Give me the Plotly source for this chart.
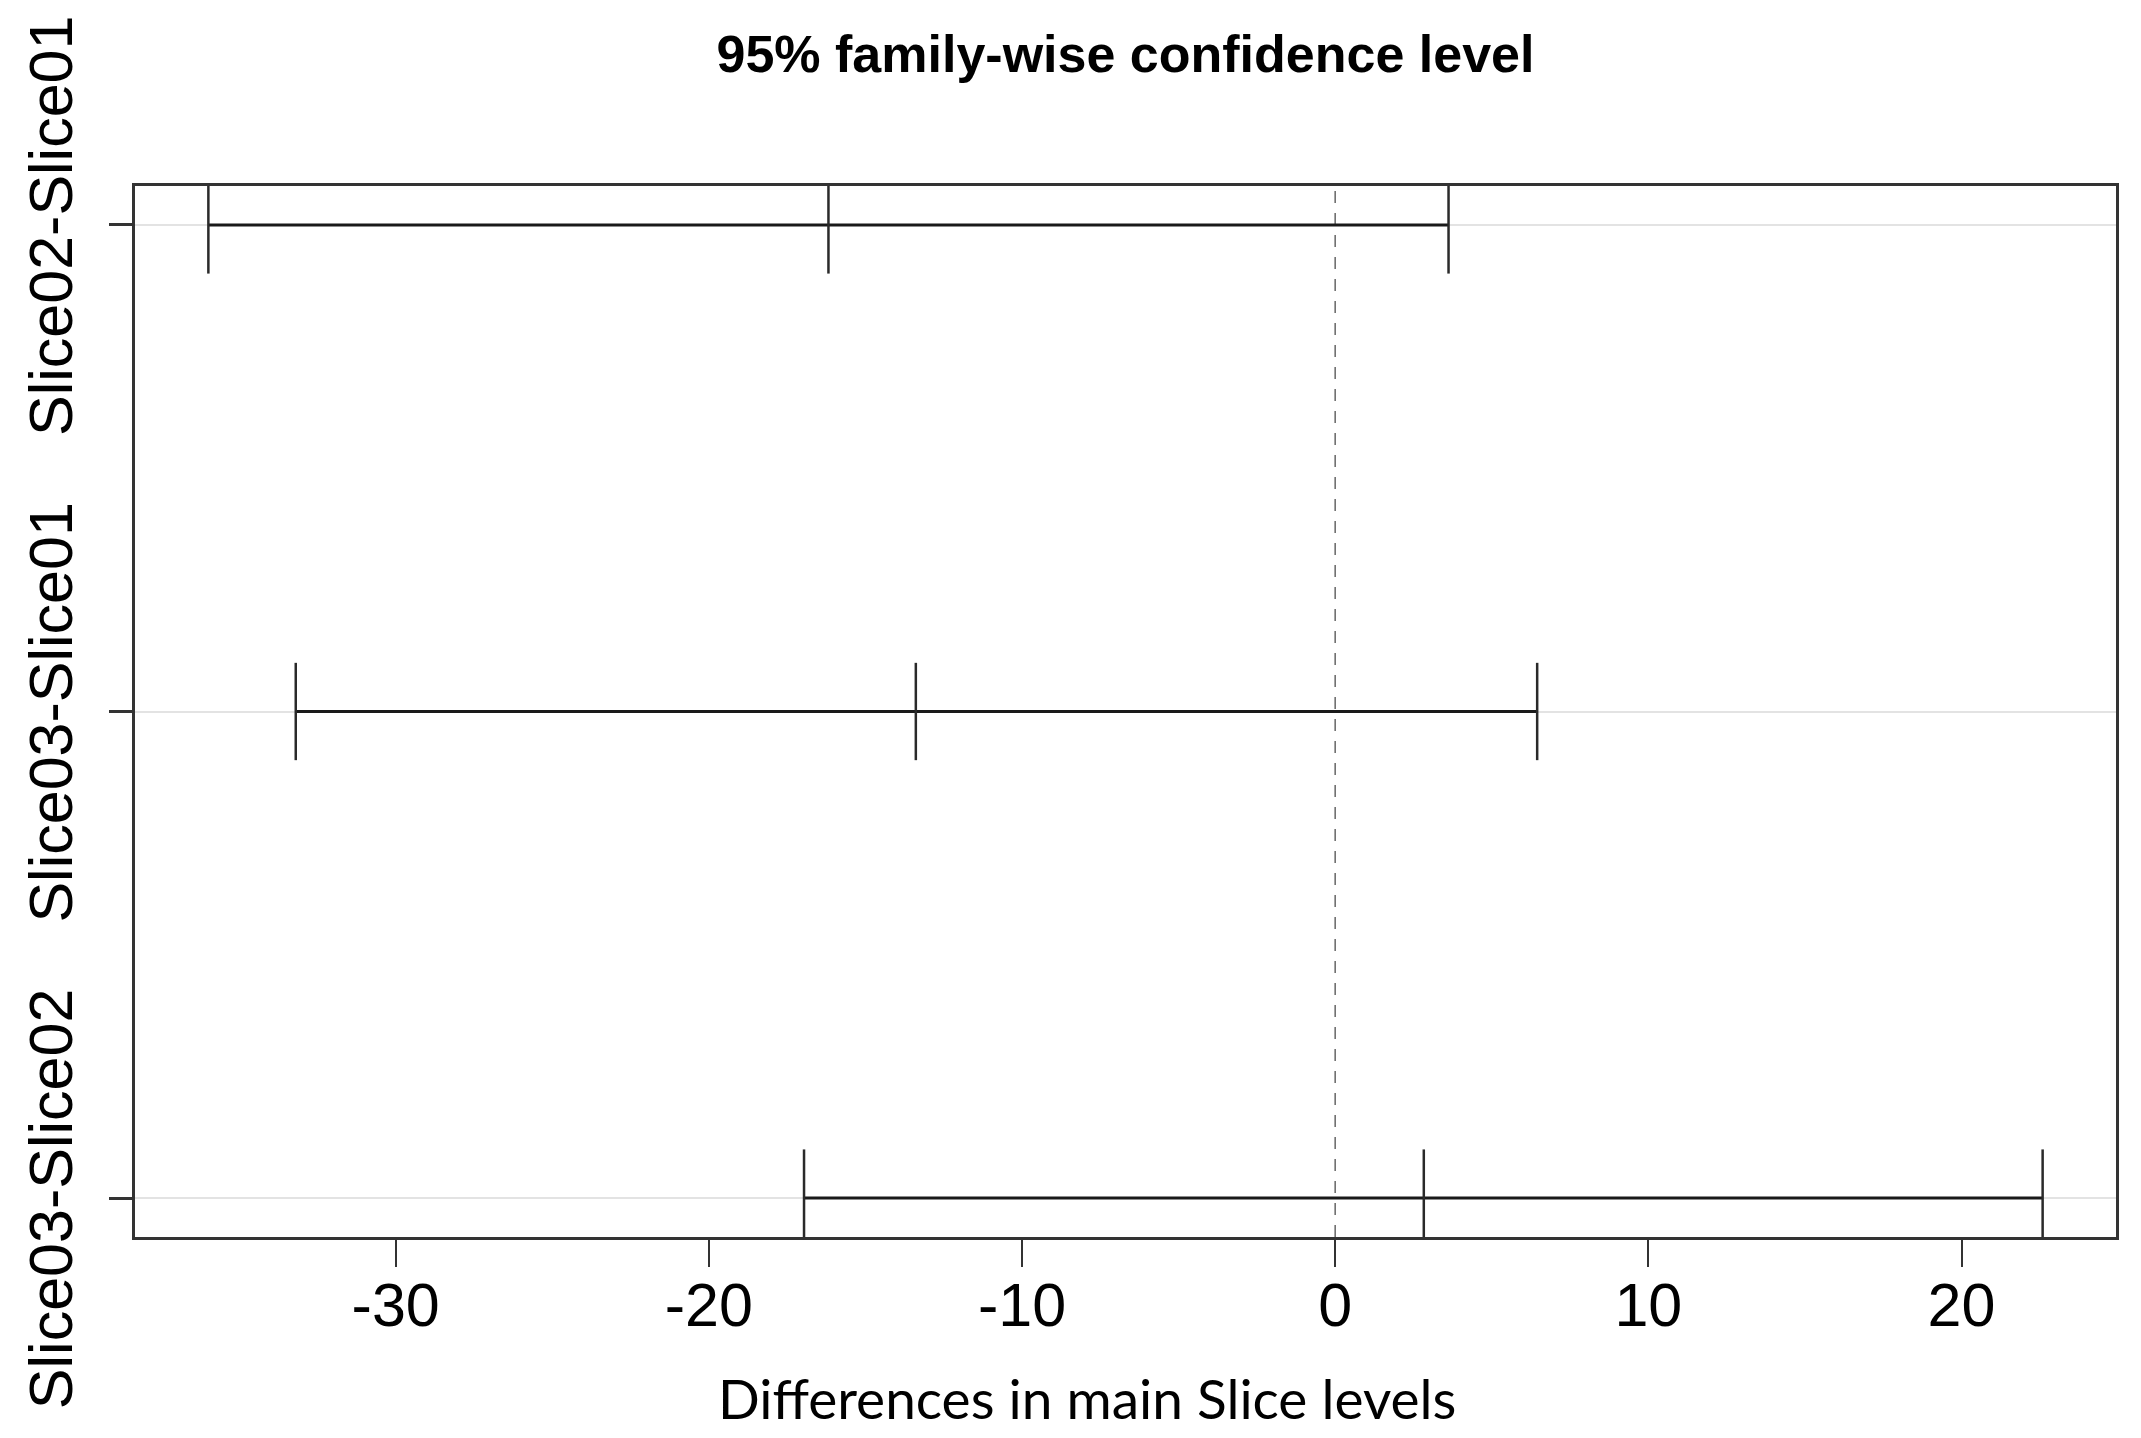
import plotly.graph_objects as go

# Tukey HSD comparison data
comparisons = ["Slice02-Slice01", "Slice03-Slice01", "Slice03-Slice02"]
diff = [-16.18, -13.39, 2.83]
lwr = [-35.98, -33.19, -16.96]
upr = [3.62, 6.45, 22.59]
x_ticks = [-30, -20, -10, 0, 10, 20]
x_tick_labels = ["-30", "-20", "-10", "0", "10", "20"]
ref_value = 0

n = len(comparisons)
ypos = list(range(n, 0, -1))  # top-to-bottom

# ranges like R: data range extended by 4%
xmin, xmax = min(lwr), max(upr)
pad = 0.04 * (xmax - xmin)
xr = [xmin - pad, xmax + pad]
ypad = 0.04 * (max(ypos) - min(ypos))
yr = [min(ypos) - ypad, max(ypos) + ypad]

hx, hy = [], []
for lo, hi, y in zip(lwr, upr, ypos):
    hx += [lo, hi, None]
    hy += [y, y, None]

vx, vy = [], []
for lo, d, hi, y in zip(lwr, diff, upr, ypos):
    for v in (lo, d, hi):
        vx += [v, v, None]
        vy += [y - 0.1, y + 0.1, None]

fig = go.Figure()
fig.add_trace(go.Scatter(x=hx, y=hy, mode="lines",
                         line=dict(color="#1a1a1a", width=3), showlegend=False))
fig.add_trace(go.Scatter(x=vx, y=vy, mode="lines",
                         line=dict(color="#2a2a2a", width=2.5), showlegend=False))
fig.add_vline(x=ref_value, line=dict(color="#666666", width=1.5, dash="12px,10px"),
              layer="below")

font_main = "Liberation Sans, Arial, Helvetica, sans-serif"

# page body has an 8px margin: figure is shrunk by 8px so it fits the window
W, H, OFF = 2141, 1438, 8
fig.update_layout(
    width=W - OFF, height=H - OFF,
    margin=dict(l=135 - OFF, r=25, t=186 - OFF, b=201, autoexpand=False),
    plot_bgcolor="white", paper_bgcolor="white",
    title=dict(text="<b>95% family-wise confidence level</b>",
               x=0.5, xref="paper", xanchor="center",
               y=1 - (54 - OFF) / (H - OFF), yref="container", yanchor="middle",
               font=dict(family=font_main, size=52, color="black")),
    xaxis=dict(range=xr, tickvals=x_ticks, ticktext=x_tick_labels,
               ticks="outside", ticklen=27, automargin=False,
               tickwidth=2, tickcolor="#333333", ticklabelstandoff=-14,
               showline=True, linecolor="#333333", linewidth=3, mirror=True,
               showgrid=False, zeroline=False,
               tickfont=dict(family=font_main, size=61, color="black")),
    yaxis=dict(range=yr, tickvals=ypos, ticktext=comparisons, ticks="outside",
               ticklen=23, tickwidth=3, tickcolor="#333333", tickangle=-90,
               automargin=False, ticklabelstandoff=13, ticklabelshift=10,
               ticklabeloverflow="allow",
               showline=True, linecolor="#333333", linewidth=3, mirror=True,
               showgrid=True, gridcolor="#e3e3e3", gridwidth=2, zeroline=False,
               tickfont=dict(family=font_main, size=61, color="black")),
    annotations=[dict(text="Differences in main Slice levels",
                      xref="paper", yref="paper", x=0.4806, y=0,
                      xanchor="center", yanchor="middle", yshift=-161,
                      showarrow=False,
                      font=dict(family="Lato, Open Sans, sans-serif", size=55, color="black"))],
)

fig.write_html("out.html")
